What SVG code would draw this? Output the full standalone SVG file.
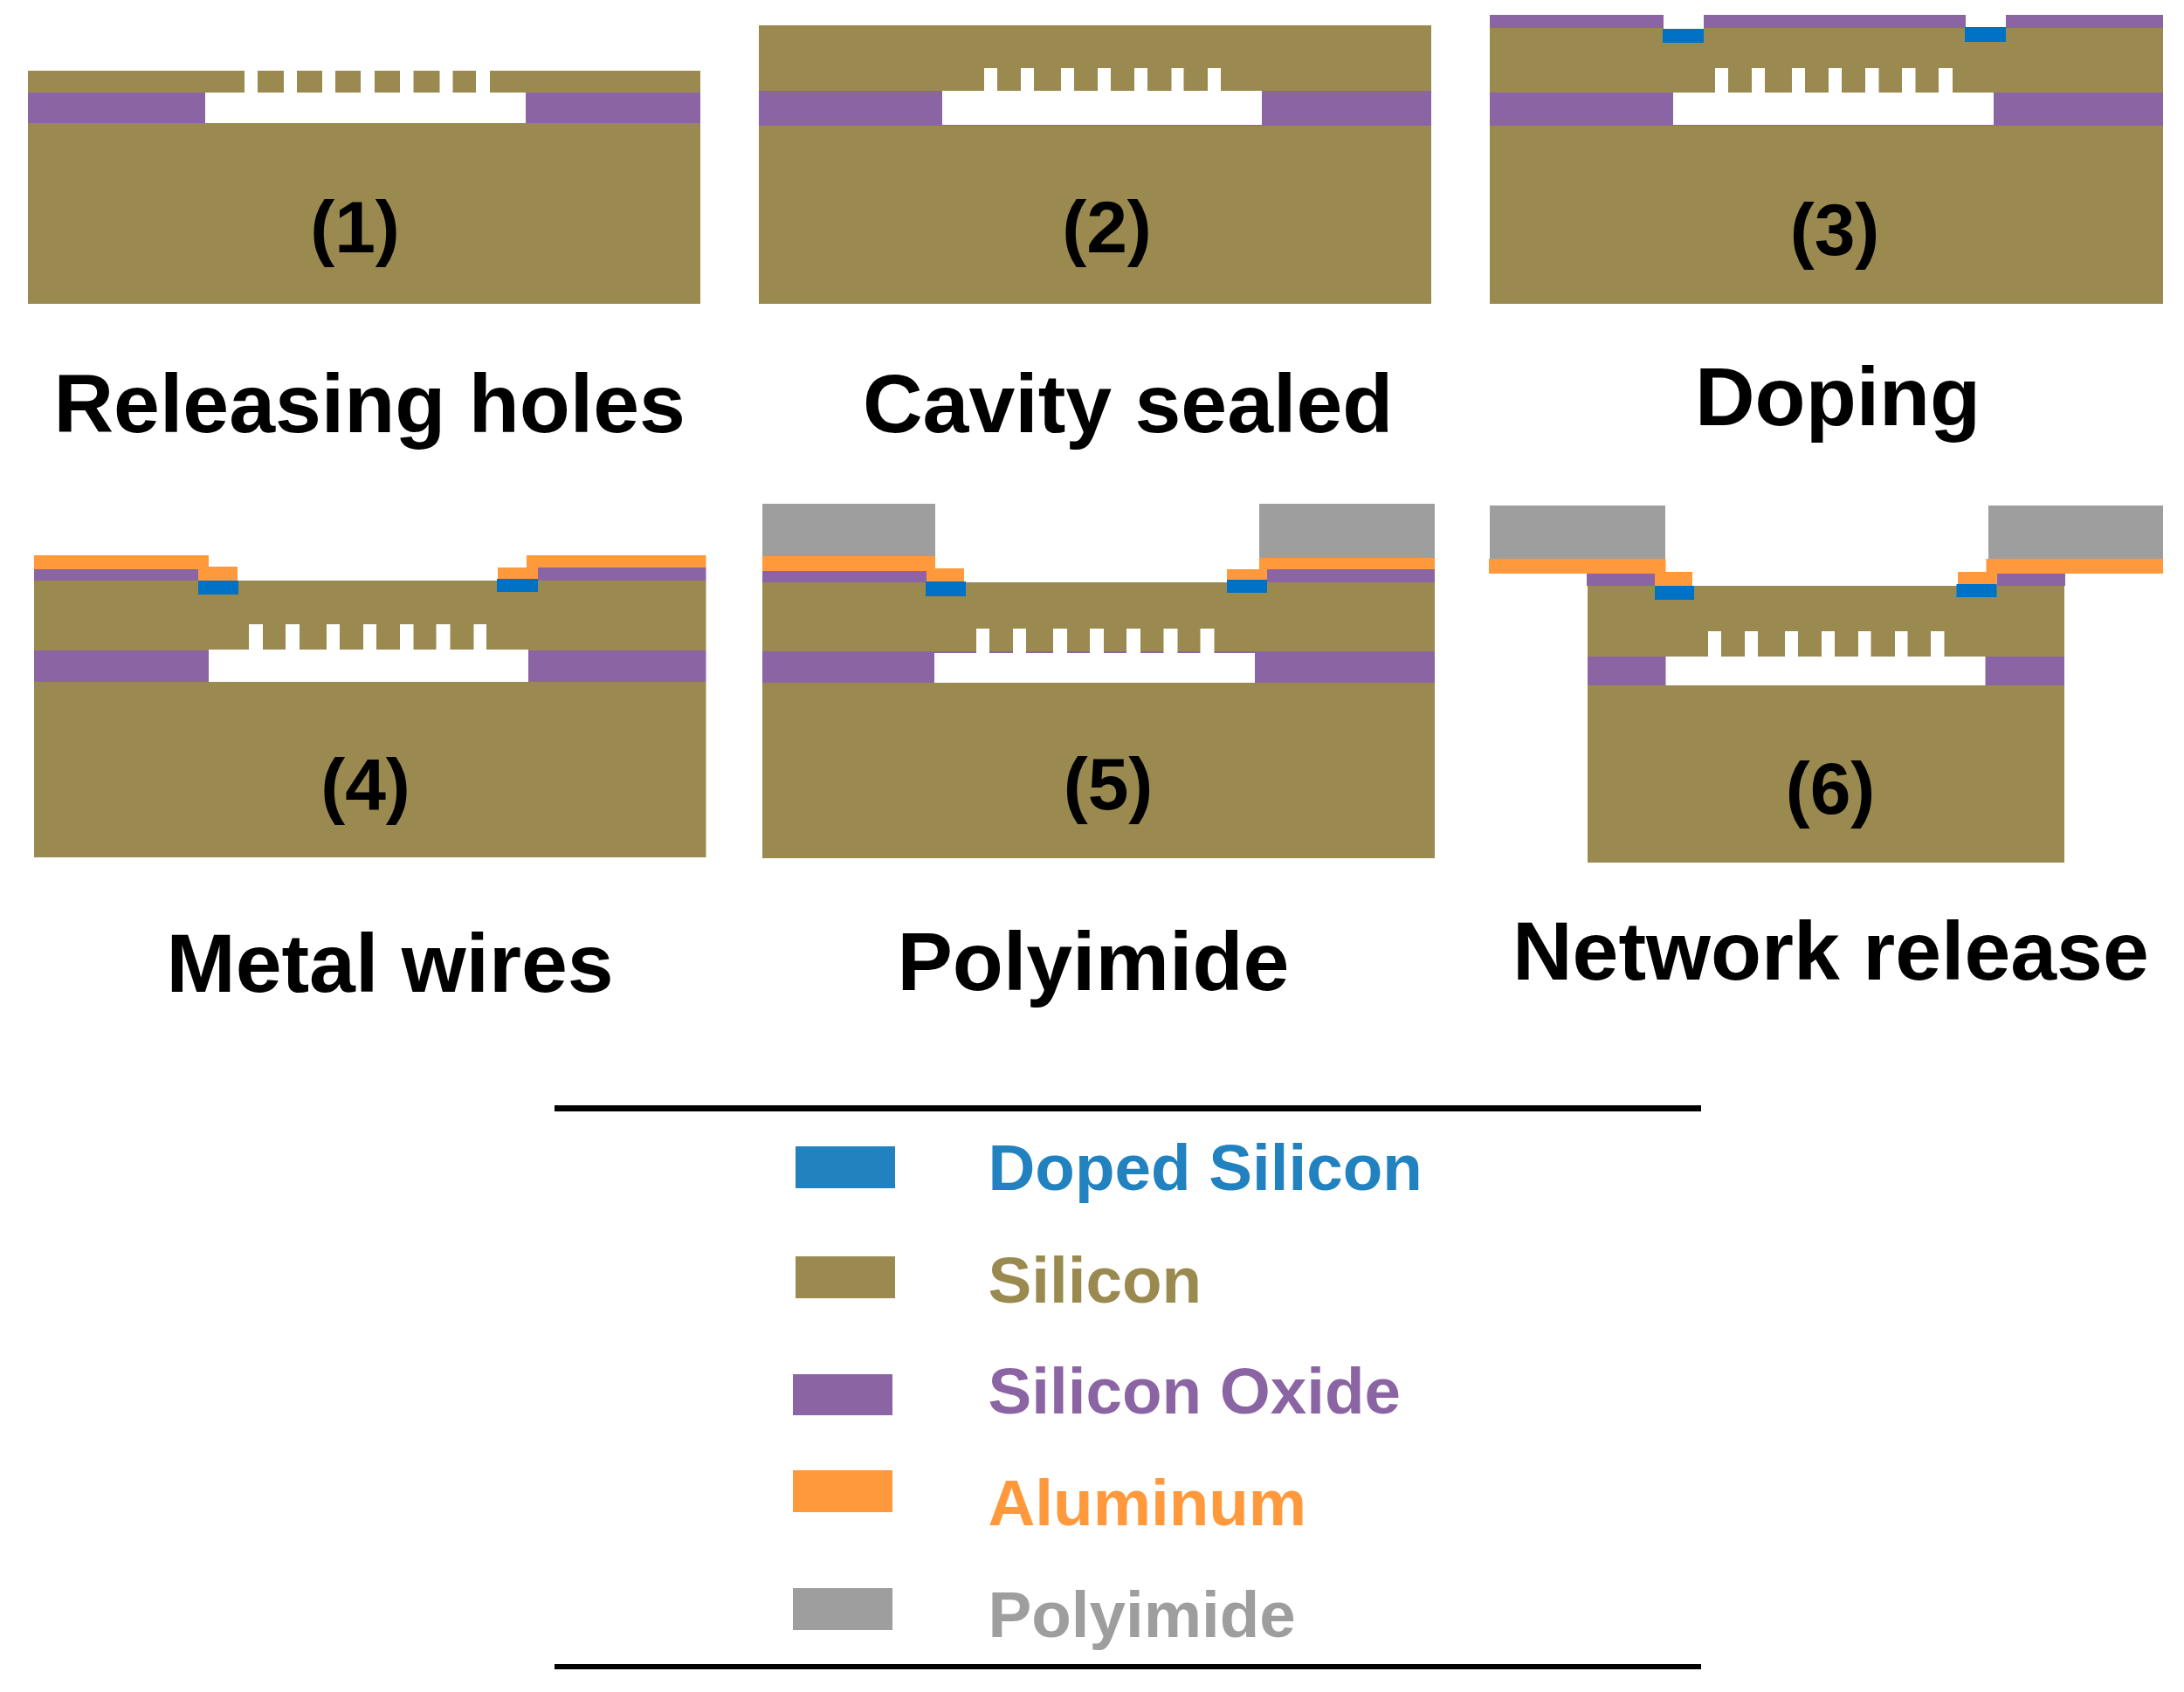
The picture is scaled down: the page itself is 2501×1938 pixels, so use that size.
<svg xmlns="http://www.w3.org/2000/svg" width="2501" height="1938" viewBox="0 0 2501 1938">
<style>
.si{fill:#9A8A50}.ox{fill:#8B65A3}.al{fill:#FF993C}.dp{fill:#0072C6}.pi{fill:#9E9E9E}.w{fill:#fff}
text{font-family:"Liberation Sans",Arial,sans-serif;font-weight:700}
.n{font-size:84px;fill:#000;text-anchor:middle}
.t{font-size:95px;fill:#000}
.l{font-size:74.6px}
</style>
<rect width="2501" height="1938" fill="#fff"/>
<g id="panel-1">
<rect class="si" x="32" y="81" width="770" height="25"/>
<rect class="ox" x="32" y="106" width="770" height="35"/>
<rect class="si" x="32" y="141" width="770" height="207"/>
<rect class="w" x="235" y="106" width="367" height="35"/>
<g class="w"><rect x="280" y="81" width="15" height="25"/><rect x="325" y="81" width="15" height="25"/><rect x="369" y="81" width="15" height="25"/><rect x="413" y="81" width="16" height="25"/><rect x="458" y="81" width="15.500" height="25"/><rect x="503.500" y="81" width="15" height="25"/><rect x="545" y="81" width="16" height="25"/></g>
<text class="n" x="406.500" y="289">(1)</text>
<text class="t" x="61.500" y="494.500">Releasing holes</text>
</g>
<g id="panel-2">
<rect class="si" x="869" y="29" width="770" height="75"/>
<rect class="ox" x="869" y="104" width="770" height="40"/>
<rect class="si" x="869" y="144" width="770" height="204"/>
<rect class="w" x="1079" y="104" width="366" height="39"/>
<g class="w"><rect x="1127" y="78" width="15" height="26"/><rect x="1169" y="78" width="15" height="26"/><rect x="1215" y="78" width="15" height="26"/><rect x="1257" y="78" width="15" height="26"/><rect x="1299" y="78" width="15" height="26"/><rect x="1341.500" y="78" width="14" height="26"/><rect x="1383" y="78" width="15" height="26"/></g>
<text class="n" x="1267.500" y="289">(2)</text>
<text class="t" x="988" y="494.500">Cavity sealed</text>
</g>
<g id="panel-3">
<rect class="ox" x="1706" y="17" width="771" height="15"/>
<rect class="si" x="1706" y="32" width="771" height="74"/>
<rect class="ox" x="1706" y="106" width="771" height="38"/>
<rect class="si" x="1706" y="144" width="771" height="204"/>
<rect class="w" x="1916" y="106" width="367" height="37"/>
<rect class="w" x="1905" y="17" width="46" height="16"/>
<rect class="w" x="2251" y="17" width="46" height="14"/>
<rect class="dp" x="1904" y="33" width="47" height="16"/>
<rect class="dp" x="2250" y="31" width="47" height="17"/>
<g class="w"><rect x="1964" y="78" width="15" height="28"/><rect x="2006" y="78" width="15" height="28"/><rect x="2052" y="78" width="15" height="28"/><rect x="2094" y="78" width="15" height="28"/><rect x="2136" y="78" width="15.500" height="28"/><rect x="2178" y="78" width="15.500" height="28"/><rect x="2220" y="78" width="16" height="28"/></g>
<text class="n" x="2101" y="292">(3)</text>
<text class="t" x="1941" y="486.500">Doping</text>
</g>
<g id="panel-4">
<rect class="al" x="39" y="636" width="200" height="16"/>
<rect class="ox" x="39" y="652" width="188" height="13"/>
<rect class="al" x="227" y="649" width="45" height="16"/>
<rect class="al" x="603" y="636" width="205.500" height="14"/>
<rect class="ox" x="616" y="650" width="192.500" height="15"/>
<rect class="al" x="570" y="650" width="46" height="13"/>
<rect class="si" x="39" y="665" width="769.500" height="80"/>
<rect class="dp" x="227" y="665" width="46" height="16"/>
<rect class="dp" x="569" y="663" width="47" height="15"/>
<rect class="ox" x="39" y="745" width="769.500" height="36"/>
<rect class="si" x="39" y="781" width="769.500" height="201"/>
<rect class="w" x="239" y="744" width="366" height="37"/>
<g class="w"><rect x="285" y="715" width="16" height="29"/><rect x="327" y="715" width="16" height="29"/><rect x="374" y="715" width="15" height="29"/><rect x="416" y="715" width="15" height="29"/><rect x="458" y="715" width="15.500" height="29"/><rect x="499.500" y="715" width="16" height="29"/><rect x="542.500" y="715" width="14.500" height="29"/></g>
<text class="n" x="418.500" y="928">(4)</text>
<text class="t" x="190.500" y="1136">Metal wires</text>
</g>
<g id="panel-5">
<rect class="pi" x="873" y="577" width="198" height="60"/>
<rect class="al" x="873" y="637" width="198" height="17"/>
<rect class="ox" x="873" y="654" width="188" height="13"/>
<rect class="al" x="1061" y="651" width="43" height="16"/>
<rect class="pi" x="1442" y="577" width="201" height="62"/>
<rect class="al" x="1442" y="639" width="201" height="13"/>
<rect class="ox" x="1451" y="652" width="192" height="15"/>
<rect class="al" x="1405" y="652" width="46" height="12"/>
<rect class="si" x="873" y="667" width="770" height="79"/>
<rect class="dp" x="1060" y="666" width="46" height="17"/>
<rect class="dp" x="1405" y="664" width="46" height="15"/>
<rect class="ox" x="873" y="746" width="770" height="36"/>
<rect class="si" x="873" y="782" width="770" height="201"/>
<rect class="w" x="1070" y="748" width="367" height="34"/>
<g class="w"><rect x="1118" y="720" width="15" height="28"/><rect x="1160" y="720" width="15" height="28"/><rect x="1206" y="720" width="16" height="28"/><rect x="1248" y="720" width="16" height="28"/><rect x="1290" y="720" width="16" height="28"/><rect x="1332.500" y="720" width="16" height="28"/><rect x="1374.500" y="720" width="16" height="28"/></g>
<text class="n" x="1269" y="927">(5)</text>
<text class="t" x="1027.500" y="1133.500">Polyimide</text>
</g>
<g id="panel-6">
<rect class="pi" x="1706" y="579" width="201" height="61"/>
<rect class="al" x="1705" y="640" width="202.500" height="17"/>
<rect class="ox" x="1817" y="657" width="78" height="14"/>
<rect class="al" x="1895" y="655" width="43" height="16"/>
<rect class="pi" x="2277" y="579" width="200" height="61"/>
<rect class="ox" x="2286.500" y="655" width="78.500" height="16"/>
<rect class="al" x="2274.500" y="640" width="202.500" height="17"/>
<rect class="al" x="2242" y="655" width="44.500" height="14"/>
<rect class="si" x="1818" y="671" width="546" height="81"/>
<rect class="dp" x="1895" y="671" width="45" height="16"/>
<rect class="dp" x="2240.500" y="669" width="46" height="15"/>
<rect class="ox" x="1818" y="752" width="546" height="33"/>
<rect class="si" x="1818" y="785" width="546" height="203"/>
<rect class="w" x="1907.500" y="752" width="366" height="33"/>
<g class="w"><rect x="1956" y="723" width="15" height="29"/><rect x="1998" y="723" width="15" height="29"/><rect x="2044" y="723" width="15" height="29"/><rect x="2086" y="723" width="15" height="29"/><rect x="2128" y="723" width="14.500" height="29"/><rect x="2170" y="723" width="14.500" height="29"/><rect x="2211" y="723" width="15.500" height="29"/></g>
<text class="n" x="2096" y="932">(6)</text>
<text class="t" x="1732" y="1121.500">Network release</text>
</g>
<g id="connectors">
<rect x="635" y="1266" width="1313" height="7" fill="#000"/>
<rect x="635" y="1906" width="1313" height="6" fill="#000"/>
</g>
<g id="legend">
<g id="legend-doped"><rect x="911" y="1313" width="114" height="48" fill="#2282C0"/><text class="l" x="1131.500" y="1363" fill="#2282C0">Doped Silicon</text></g>
<g id="legend-silicon"><rect class="si" x="911" y="1439" width="114" height="48"/><text class="l si" x="1131.500" y="1492">Silicon</text></g>
<g id="legend-oxide"><rect class="ox" x="908" y="1574" width="114" height="47"/><text class="l ox" x="1131.500" y="1619">Silicon Oxide</text></g>
<g id="legend-aluminum"><rect class="al" x="908" y="1684" width="114" height="48"/><text class="l al" x="1131.500" y="1747">Aluminum</text></g>
<g id="legend-polyimide"><rect class="pi" x="908" y="1819" width="114" height="48"/><text class="l pi" x="1131.500" y="1875">Polyimide</text></g>
</g>
</svg>
